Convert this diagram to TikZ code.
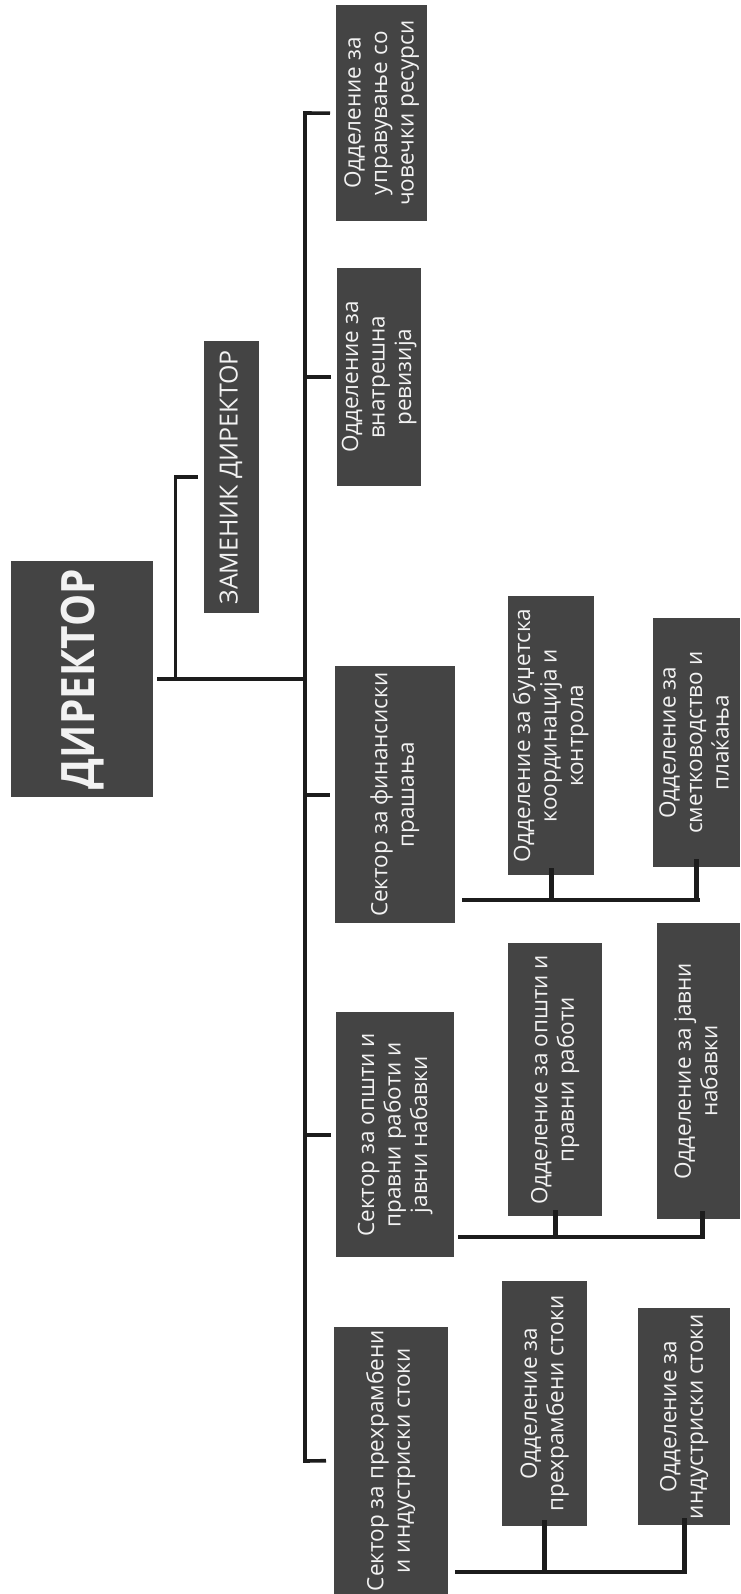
\documentclass[tikz,border=0pt]{standalone}
\usepackage{fontspec}
\setmainfont{Open Sans}
\usepackage{graphicx}
\definecolor{boxgray}{HTML}{444444}
\definecolor{linegray}{HTML}{1C1C1C}
\definecolor{txt}{HTML}{F2F2F2}
\newcommand{\rt}[1]{\rotatebox{90}{\begin{tabular}{@{}c@{}}#1\end{tabular}}}
\tikzset{
  orgbox/.style={fill=boxgray, text=txt, inner sep=0pt, anchor=north west,
    font=\fontsize{22.5}{26.5}\selectfont},
  conn/.style={draw=linegray, line width=3.6pt},
  subconn/.style={draw=linegray, line width=4.6pt},
}
\begin{document}
\begin{tikzpicture}[x=1pt,y=-1pt]
\fill[white] (0,0) rectangle (740,1594);
\useasboundingbox (0,0) rectangle (740,1594);
% top level
\node[orgbox, minimum width=142pt, minimum height=236pt, font=\fontsize{46}{50}\bfseries] (dir) at (11,561) {\rotatebox{90}{\scalebox{0.88}[1]{ДИРЕКТОР}}};
\node[orgbox, minimum width=55pt, minimum height=272pt, font=\fontsize{25}{30}\selectfont] (zam) at (204,341) {\rt{ЗАМЕНИК ДИРЕКТОР}};
% first column
\node[orgbox, minimum width=91pt, minimum height=216pt] (hr) at (336,5) {\rt{Одделение за\\управување со\\човечки ресурси}};
\node[orgbox, minimum width=84pt, minimum height=218pt] (rev) at (337,268) {\rt{Одделение за\\внатрешна\\ревизија}};
\node[orgbox, minimum width=120pt, minimum height=257pt] (finsec) at (335,666) {\rt{Сектор за финансиски\\прашања}};
\node[orgbox, minimum width=118pt, minimum height=245pt] (gensec) at (336,1012) {\rt{Сектор за општи и\\правни работи и\\јавни набавки}};
\node[orgbox, minimum width=114pt, minimum height=267pt] (foodsec) at (334,1327) {\rt{Сектор за прехрамбени\\и индустриски стоки}};
% sub departments
\node[orgbox, minimum width=86pt, minimum height=279pt] (budget) at (508,596) {\rt{Одделение за буџетска\\координација и\\контрола}};
\node[orgbox, minimum width=87pt, minimum height=249pt] (acc) at (653,618) {\rt{Одделение за\\сметководство и\\плаќања}};
\node[orgbox, minimum width=94pt, minimum height=273pt] (genleg) at (508,943) {\rt{Одделение за општи и\\правни работи}};
\node[orgbox, minimum width=83pt, minimum height=296pt] (proc) at (657,923) {\rt{Одделение за јавни\\набавки}};
\node[orgbox, minimum width=85pt, minimum height=245pt] (food) at (502,1281) {\rt{Одделение за\\прехрамбени стоки}};
\node[orgbox, minimum width=92pt, minimum height=217pt] (ind) at (638,1308) {\rt{Одделение за\\индустриски стоки}};
% spine coordinates
\coordinate (sptop) at (305,113);
\coordinate (spbot) at (305,1461);
\coordinate (spdir) at (dir.east -| sptop);
\coordinate (zamx) at ([xshift=22pt]dir.east);
% director connectors
\draw[conn] ([xshift=4pt]dir.east) -- (spdir);
\draw[conn] (zamx) |- ([xshift=-6pt]zam.west);
% spine
\draw[conn, line cap=rect] (sptop) -- (spbot);
\draw[conn] (sptop) -- ([xshift=-6pt]hr.west);
\draw[conn] (rev.west -| sptop) -- ([xshift=-6pt]rev.west);
\draw[conn] (finsec.west -| sptop) -- ([xshift=-5pt]finsec.west);
\draw[conn] (gensec.west -| sptop) -- ([xshift=-5pt]gensec.west);
\draw[conn] (spbot) -- ([xshift=-8pt]foodsec.west);
% financial subs
\coordinate (fin1) at (462,900);
\coordinate (fin2) at (700,900);
\draw[subconn] (fin1) -- (fin2);
\draw[subconn] (budget.south |- fin1) -- ([yshift=7pt]budget.south);
\draw[subconn, line cap=rect] (acc.south |- fin2) -- ([yshift=6pt]acc.south);
% general subs
\coordinate (gen1) at (458,1237);
\coordinate (gen2) at (704,1237);
\draw[subconn] (gen1) -- (gen2);
\draw[subconn] (genleg.south |- gen1) -- ([yshift=6pt]genleg.south);
\draw[subconn, line cap=rect] ([xshift=4pt]proc.south |- gen2) -- ([xshift=4pt,yshift=6pt]proc.south);
% food subs
\coordinate (fd1) at (455,1572);
\coordinate (fd2) at (685,1572);
\draw[subconn] (fd1) -- (fd2);
\draw[subconn] (food.south |- fd1) -- ([yshift=6pt]food.south);
\draw[subconn, line cap=rect] (ind.south |- fd2) -- ([yshift=5pt]ind.south);
\end{tikzpicture}
\end{document}
